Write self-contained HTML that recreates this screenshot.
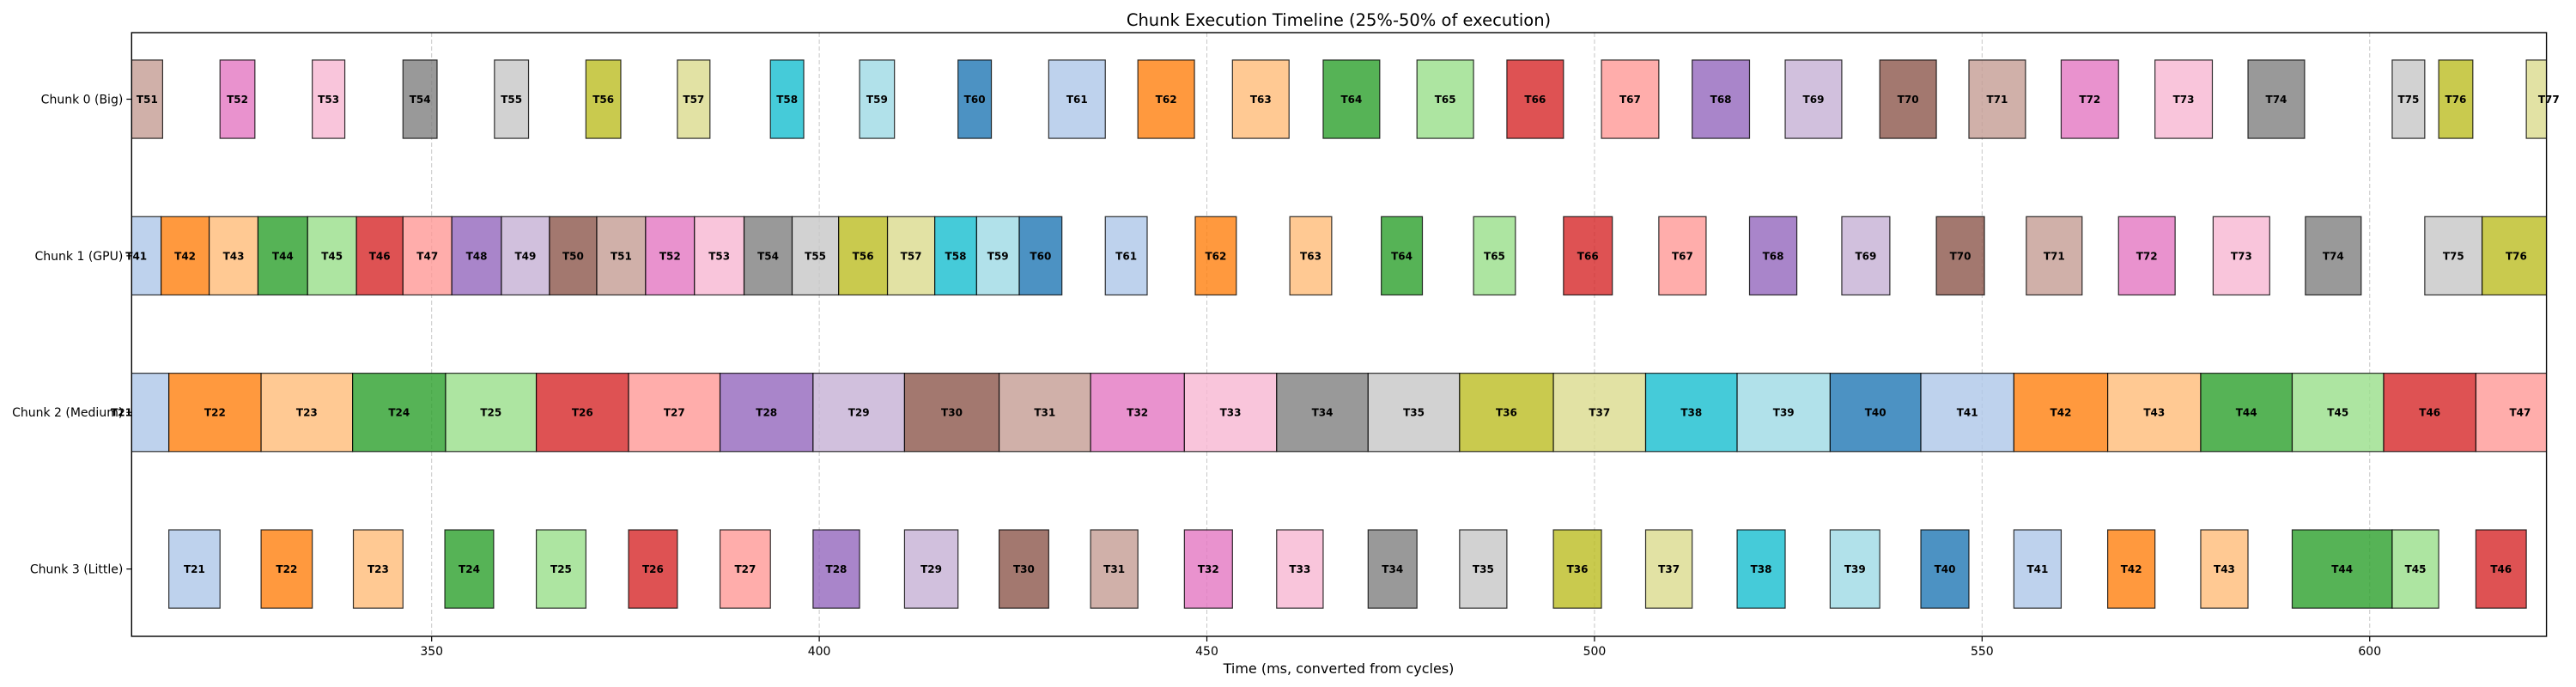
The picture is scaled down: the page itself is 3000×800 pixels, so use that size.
<!DOCTYPE html>
<html><head><meta charset="utf-8"><style>
html,body{margin:0;padding:0;background:#fff;}
svg{display:block;font-family:"DejaVu Sans","Liberation Sans",sans-serif;}
</style></head><body>
<svg id="chart" width="3000" height="800" viewBox="0 0 3000 800" xmlns="http://www.w3.org/2000/svg">
<rect x="0" y="0" width="3000" height="800" fill="#fff"/>
<text x="1559" y="30" text-anchor="middle" font-size="19.5">Chunk Execution Timeline (25%-50% of execution)</text>
<g id="grid"></g>
<g id="bars"></g>
<rect x="153.3" y="38" width="2812.3" height="703" fill="none" stroke="#000" stroke-width="1.4"/>
<g id="axes"></g>
<text x="1559" y="784" text-anchor="middle" font-size="16">Time (ms, converted from cycles)</text>
</svg>
<script>
const rowLabels = ["Chunk 0 (Big)", "Chunk 1 (GPU)", "Chunk 2 (Medium)", "Chunk 3 (Little)"];
const xTicks = [350, 400, 450, 500, 550, 600];
const bigTasks = [51,52,53,54,55,56,57,58,59,60,61,62,63,64,65,66,67,68,69,70,71,72,73,74,75,76,77];
const bigStart = [311.3,322.7,334.6,346.3,358.1,369.9,381.7,393.7,405.2,417.9,429.6,441.1,453.3,465.0,477.1,488.7,500.9,512.6,524.6,536.8,548.3,560.2,572.3,584.3,602.9,608.9,620.2];
const bigEnd   = [315.3,327.2,338.8,350.7,362.5,374.4,385.9,398.0,409.7,422.2,436.9,448.4,460.6,472.3,484.4,496.0,508.3,520.0,531.9,544.1,555.6,567.6,579.7,591.6,607.1,613.3,626.0];
const gpuTasks = [41,42,43,44,45,46,47,48,49,50,51,52,53,54,55,56,57,58,59,60,61,62,63,64,65,66,67,68,69,70,71,72,73,74,75,76];
const gpuStart = [308.7,315.1,321.3,327.6,334.0,340.3,346.3,352.6,359.0,365.2,371.3,377.6,383.9,390.3,396.5,402.5,408.8,414.9,420.3,425.8,436.9,448.5,460.7,472.5,484.4,496.0,508.3,520.0,531.9,544.1,555.7,567.6,579.8,591.7,607.1,614.5];
const gpuEnd   = [315.1,321.3,327.6,334.0,340.3,346.3,352.6,359.0,365.2,371.3,377.6,383.9,390.3,396.5,402.5,408.8,414.9,420.3,425.8,431.3,442.3,453.8,466.1,477.8,489.8,502.3,514.4,526.1,538.1,550.3,562.9,574.9,587.1,598.9,614.5,623.3];
const medTasks = [21,22,23,24,25,26,27,28,29,30,31,32,33,34,35,36,37,38,39,40,41,42,43,44,45,46,47];
const medStart = [303.9,316.1,328.0,339.8,351.8,363.5,375.4,387.2,399.2,411.0,423.2,435.0,447.1,459.0,470.8,482.6,494.7,506.6,518.4,530.4,542.1,554.1,566.2,578.2,590.0,601.8,613.7];
const medEnd   = [316.1,328.0,339.8,351.8,363.5,375.4,387.2,399.2,411.0,423.2,435.0,447.1,459.0,470.8,482.6,494.7,506.6,518.4,530.4,542.1,554.1,566.2,578.2,590.0,601.8,613.7,625.1];
const litTasks = [21,22,23,24,25,26,27,28,29,30,31,32,33,34,35,36,37,38,39,40,41,42,43,44,45,46];
const litStart = [316.1,328.0,339.9,351.7,363.5,375.4,387.2,399.2,411.0,423.2,435.0,447.1,459.0,470.8,482.6,494.7,506.6,518.4,530.4,542.1,554.1,566.2,578.2,590.0,602.9,613.7];
const litEnd   = [322.7,334.6,346.3,358.0,369.9,381.7,393.7,405.2,417.9,429.6,441.1,453.3,465.0,477.1,488.7,500.9,512.6,524.6,536.8,548.3,560.2,572.3,584.3,602.9,608.9,620.2];

const palette = ['#1f77b4','#aec7e8','#ff7f0e','#ffbb78','#2ca02c','#98df8a','#d62728','#ff9896','#9467bd','#c5b0d5','#8c564b','#c49c94','#e377c2','#f7b6d2','#7f7f7f','#c7c7c7','#bcbd22','#dbdb8d','#17becf','#9edae5'];
const NS = 'http://www.w3.org/2000/svg';
const X0 = 153.3, X1 = 2965.6, XMIN = 311.3, XMAX = 622.8;
const Y0 = 38, Y1 = 741, YMIN = -0.425, YMAX = 3.43;
function xs(v){ return X0 + (v - XMIN) / (XMAX - XMIN) * (X1 - X0); }
function ys(v){ return Y0 + (v - YMIN) / (YMAX - YMIN) * (Y1 - Y0); }
function mk(tag, attrs, parent){ const e = document.createElementNS(NS, tag); for (const k in attrs) e.setAttribute(k, attrs[k]); parent.appendChild(e); return e; }

const grid = document.getElementById('grid');
const axes = document.getElementById('axes');
const barsG = document.getElementById('bars');

xTicks.forEach(t => {
  const x = xs(t);
  const gl = mk('line', {x1:x, x2:x, y1:Y0, y2:Y1, stroke:'#b0b0b0', 'stroke-width':1, 'stroke-dasharray':'5,3', opacity:0.7}, grid);
  
  
  const tk = mk('line', {x1:x, x2:x, y1:Y1, y2:Y1+6, stroke:'#000', 'stroke-width':1.2}, axes);
  
  
  const tl = mk('text', {x:x, y:Y1+22, 'text-anchor':'middle', 'font-size':14}, axes);
  tl.textContent = t;
  
  
});
rowLabels.forEach((lab, i) => {
  const y = ys(i);
  const tk = mk('line', {x1:X0-6, x2:X0, y1:y, y2:y, stroke:'#000', 'stroke-width':1.2}, axes);
  
  
  const tl = mk('text', {x:X0-10, y:y+5, 'text-anchor':'end', 'font-size':14}, axes);
  tl.textContent = lab;
  
  
});

const rows = [[bigTasks,bigStart,bigEnd],[gpuTasks,gpuStart,gpuEnd],[medTasks,medStart,medEnd],[litTasks,litStart,litEnd]];
const clip = mk('clipPath', {id:'plotclip'}, document.getElementById('chart'));
mk('rect', {x:X0, y:Y0, width:X1-X0, height:Y1-Y0}, clip);
const clipG = mk('g', {'clip-path':'url(#plotclip)'}, barsG);
const labelG = mk('g', {}, barsG);
rows.forEach((r, ri) => {
  const [tasks, st, en] = r;
  const yTop = ys(ri - 0.25), yBot = ys(ri + 0.25);
  tasks.forEach((t, k) => {
    const xa = xs(st[k]), xb = xs(en[k]);
    const rect = mk('rect', {x:xa, y:yTop, width:xb-xa, height:yBot-yTop, fill:palette[t % 20], 'fill-opacity':0.8, stroke:'#000', 'stroke-opacity':0.8, 'stroke-width':1.2}, clipG);
    
    
    const lbl = mk('text', {x:(xa+xb)/2, y:ys(ri)+4.5, 'text-anchor':'middle', 'font-size':12, 'font-weight':'bold'}, labelG);
    lbl.textContent = 'T' + t;
    
    
  });
});
</script>
</body></html>
